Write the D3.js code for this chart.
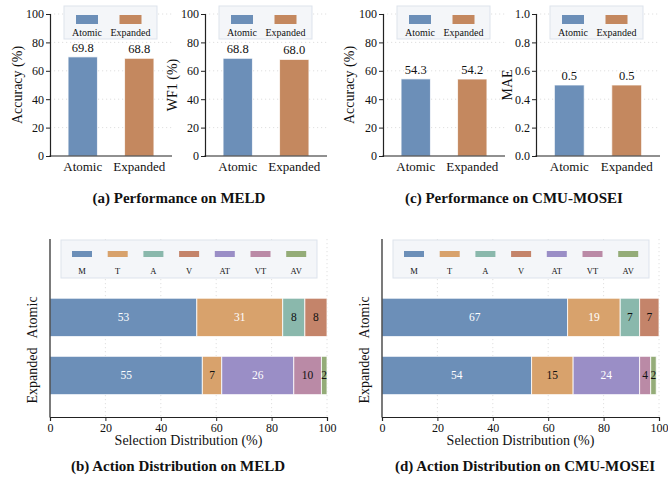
<!DOCTYPE html>
<html><head><meta charset="utf-8">
<script src="https://cdn.jsdelivr.net/npm/d3@7"></script>
<style>body{margin:0;background:#fff}svg{display:block}text{font-family:"Liberation Serif","Times New Roman",serif}</style>
</head><body><svg id="c" width="668" height="480"></svg>
<script>
// ---- data ----
const methods = ["Atomic", "Expanded"];
const meldAcc = [69.8, 68.8];
const meldWF1 = [68.8, 68.0];
const moseiAcc = [54.3, 54.2];
const moseiMAE = [0.5, 0.5];
const pctTicks = [0, 20, 40, 60, 80, 100];
const maeTicks = [0.0, 0.2, 0.4, 0.6, 0.8, 1.0];
const actions = ["M", "T", "A", "V", "AT", "VT", "AV"];
const meldAtomicDist = [53, 31, 8, 8, 0, 0, 0];
const meldExpandedDist = [55, 7, 0, 0, 26, 10, 2];
const moseiAtomicDist = [67, 19, 7, 7, 0, 0, 0];
const moseiExpandedDist = [54, 15, 0, 0, 24, 4, 2];
const distTicks = [0, 20, 40, 60, 80, 100];
const titles = ["(a) Performance on MELD", "(b) Action Distribution on MELD",
                "(c) Performance on CMU-MOSEI", "(d) Action Distribution on CMU-MOSEI"];

// ---- style ----
const methodColors = ["#6c8fb8", "#c4885f"];
const actionColors = ["#6c8fb8", "#d8a26c", "#8ab8ac", "#c4846a", "#9a8ec6", "#ba8aa6", "#94ac78"];
const svg = d3.select("#c");
const AX = "#222";
const GRID = "#d8d8d8";

function barPanel(o) {
  const g = svg.append("g");
  const x = d3.scaleLinear().domain([-0.58, 1.58]).range([o.x0, o.x1]);
  const y = d3.scaleLinear().domain([0, o.max]).range([156, 14]);
  // grid
  g.selectAll(".gr").data(o.ticks.slice(1)).enter().append("line")
    .attr("x1", o.x0).attr("x2", o.x1).attr("y1", d => y(d)).attr("y2", d => y(d))
    .attr("stroke", GRID).attr("stroke-width", 0.8).attr("stroke-dasharray", "1.2,2.8");
  // bars
  const bw = 0.52;
  g.selectAll(".b").data(o.vals).enter().append("rect")
    .attr("x", (d, i) => x(i - bw / 2)).attr("width", x(bw) - x(0))
    .attr("y", d => y(d)).attr("height", d => y(0) - y(d))
    .attr("fill", (d, i) => methodColors[i])
    .attr("stroke", "rgba(255,255,255,0.75)").attr("stroke-width", 1);
  g.selectAll(".v").data(o.vals).enter().append("text")
    .attr("x", (d, i) => x(i)).attr("y", d => y(d) - 5)
    .attr("text-anchor", "middle").attr("font-size", 12.5).attr("fill", "#111")
    .text(d => d3.format(".1f")(d));
  // axes
  const ya = d3.axisLeft(y).tickValues(o.ticks).tickSize(4).tickPadding(2)
    .tickFormat(o.fmt);
  const yg = g.append("g").attr("transform", `translate(${o.x0},0)`).call(ya);
  yg.select(".domain").attr("stroke", AX).attr("stroke-width", 1.2);
  yg.selectAll(".tick line").attr("stroke", AX).attr("stroke-width", 1);
  yg.selectAll("text").attr("font-size", 12).attr("fill", "#111")
    .style("font-family", '"Liberation Serif",serif');
  g.append("line").attr("x1", o.x0 - 0.6).attr("x2", o.x1).attr("y1", y(0)).attr("y2", y(0))
    .attr("stroke", AX).attr("stroke-width", 1.2);
  g.selectAll(".xl").data(methods).enter().append("text")
    .attr("x", (d, i) => x(i)).attr("y", 171).attr("text-anchor", "middle")
    .attr("font-size", 13).attr("fill", "#111").text(d => d);
  g.append("text").attr("transform", `translate(${o.lx},85) rotate(-90)`)
    .attr("text-anchor", "middle").attr("dominant-baseline", "central")
    .attr("font-size", 14).attr("fill", "#111").text(o.label);
  // legend
  const lx = o.x0 + 14;
  g.append("rect").attr("x", lx).attr("y", 6).attr("width", 93).attr("height", 33)
    .attr("fill", "#f4f6f9").attr("stroke", "#dde3ec").attr("stroke-width", 1);
  const lc = [lx + 23, lx + 66.5];
  methods.forEach((m, i) => {
    g.append("rect").attr("x", lc[i] - 11).attr("y", 15).attr("width", 22).attr("height", 9)
      .attr("fill", methodColors[i]);
    g.append("text").attr("x", lc[i]).attr("y", 36).attr("text-anchor", "middle")
      .attr("font-size", 10).attr("fill", "#111").text(m);
  });
}

function distPanel(o) {
  const g = svg.append("g");
  const x = d3.scaleLinear().domain([0, 100]).range([o.x0, o.x1]);
  const y = d3.scaleLinear().domain([-0.715, 2.35]).range([417, 239]);
  g.selectAll(".gr").data(distTicks.slice(1)).enter().append("line")
    .attr("x1", d => x(d)).attr("x2", d => x(d)).attr("y1", 239).attr("y2", 417)
    .attr("stroke", GRID).attr("stroke-width", 0.8).attr("stroke-dasharray", "1.2,2.8");
  const rows = [{name: "Atomic", pos: 1, vals: o.atomic}, {name: "Expanded", pos: 0, vals: o.expanded}];
  const bh = 0.66;
  rows.forEach(r => {
    let acc = 0;
    const segs = r.vals.map((v, i) => { const s = {v, i, start: acc}; acc += v; return s; })
      .filter(s => s.v > 0);
    g.selectAll(null).data(segs).enter().append("rect")
      .attr("x", s => x(s.start)).attr("width", s => x(s.start + s.v) - x(s.start))
      .attr("y", y(r.pos + bh / 2)).attr("height", y(r.pos - bh / 2) - y(r.pos + bh / 2))
      .attr("fill", s => actionColors[s.i])
      .attr("stroke", "rgba(255,255,255,0.8)").attr("stroke-width", 1);
    g.selectAll(null).data(segs).enter().append("text")
      .attr("x", s => x(s.start + s.v / 2)).attr("y", y(r.pos))
      .attr("text-anchor", "middle").attr("dominant-baseline", "central")
      .attr("font-size", 11.5).attr("fill", s => s.v >= 16 ? "#fff" : "#111")
      .text(s => s.v);
    g.append("text").attr("transform", `translate(${o.x0 - 18},${y(r.pos)}) rotate(-90)`)
      .attr("text-anchor", "middle").attr("dominant-baseline", "central")
      .attr("font-size", 14).attr("fill", "#111").text(r.name);
  });
  const xa = d3.axisBottom(x).tickValues(distTicks).tickSize(4).tickPadding(2);
  const xg = g.append("g").attr("transform", "translate(0,417)").call(xa);
  xg.select(".domain").attr("stroke", AX).attr("stroke-width", 1.2);
  xg.selectAll(".tick line").attr("stroke", AX);
  xg.selectAll("text").attr("font-size", 12).attr("fill", "#111")
    .style("font-family", '"Liberation Serif",serif');
  g.append("line").attr("x1", o.x0).attr("x2", o.x0).attr("y1", 239).attr("y2", 417.6)
    .attr("stroke", AX).attr("stroke-width", 1.2);
  g.append("text").attr("x", (o.x0 + o.x1) / 2).attr("y", 445).attr("text-anchor", "middle")
    .attr("font-size", 14).attr("fill", "#111").text("Selection Distribution (%)");
  // legend
  const lx = o.x0 + 11;
  g.append("rect").attr("x", lx).attr("y", 240).attr("width", 256).attr("height", 38)
    .attr("fill", "#f4f6f9").attr("stroke", "#dde3ec").attr("stroke-width", 1);
  actions.forEach((a, i) => {
    const cx = o.x0 + 32 + i * 35.7;
    g.append("rect").attr("x", cx - 10).attr("y", 251).attr("width", 20).attr("height", 6)
      .attr("fill", actionColors[i]);
    g.append("text").attr("x", cx).attr("y", 274).attr("text-anchor", "middle")
      .attr("font-size", 8.5).attr("fill", "#111").text(a);
  });
}

const pctFmt = d3.format("d");
const maeFmt = d3.format(".1f");
barPanel({x0: 50, x1: 172, vals: meldAcc, max: 100, ticks: pctTicks, fmt: pctFmt, label: "Accuracy (%)", lx: 17});
barPanel({x0: 205, x1: 327, vals: meldWF1, max: 100, ticks: pctTicks, fmt: pctFmt, label: "WF1 (%)", lx: 172});
barPanel({x0: 383, x1: 505, vals: moseiAcc, max: 100, ticks: pctTicks, fmt: pctFmt, label: "Accuracy (%)", lx: 349});
barPanel({x0: 536, x1: 660, vals: moseiMAE, max: 1, ticks: maeTicks, fmt: maeFmt, label: "MAE", lx: 507});
distPanel({x0: 50, x1: 327, atomic: meldAtomicDist, expanded: meldExpandedDist});
distPanel({x0: 382, x1: 659, atomic: moseiAtomicDist, expanded: moseiExpandedDist});

const tpos = [[179, 203], [178, 471], [514, 203], [525, 471]];
titles.forEach((t, i) => {
  svg.append("text").attr("x", tpos[i][0]).attr("y", tpos[i][1]).attr("text-anchor", "middle")
    .attr("font-size", 15).attr("font-weight", "bold").attr("fill", "#111").text(t);
});
</script></body></html>
